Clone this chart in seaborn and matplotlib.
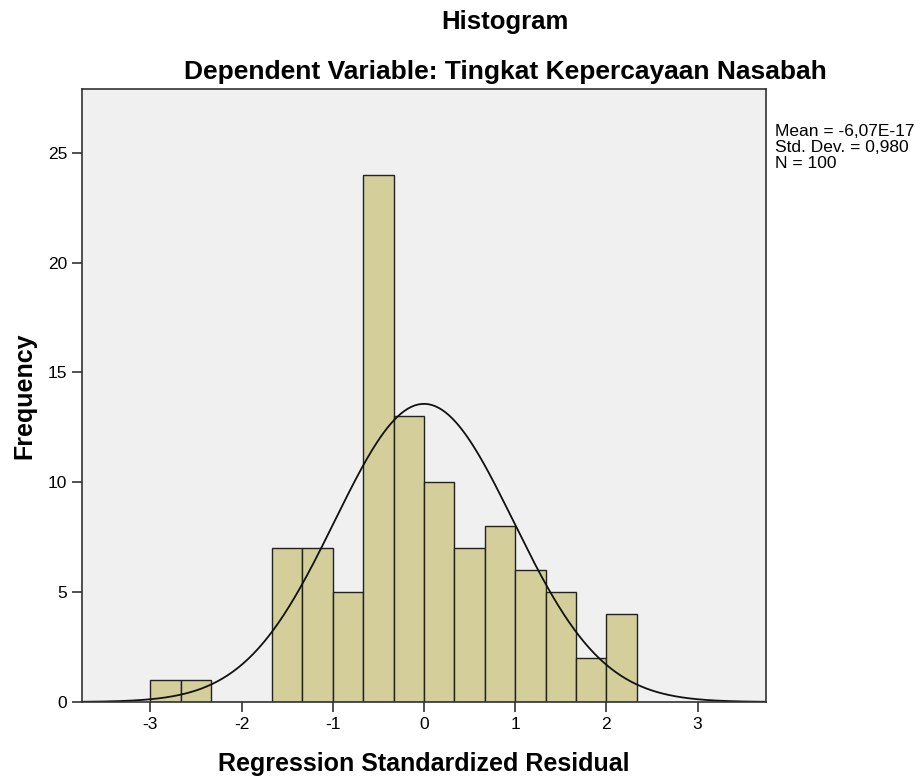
"""SPSS-style residual histogram with fitted normal curve."""
import matplotlib
matplotlib.use("Agg")
import matplotlib.pyplot as plt
import numpy as np
import pandas as pd
import seaborn as sns

# bins of width 1/3 starting at -3
bin_edges = [-3.0, -8 / 3, -7 / 3, -2.0, -5 / 3, -4 / 3, -1.0, -2 / 3, -1 / 3,
             0.0, 1 / 3, 2 / 3, 1.0, 4 / 3, 5 / 3, 2.0, 7 / 3]
counts = [1, 1, 0, 0, 7, 7, 5, 24, 13, 10, 7, 8, 6, 5, 2, 4]

mean_resid = -6.07e-17
std_resid = 0.980
n_obs = 100
x_ticks = [-3, -2, -1, 0, 1, 2, 3]
y_ticks = [0, 5, 10, 15, 20, 25]

sns.set_theme(style="white")
plt.rcParams["font.family"] = ["Liberation Sans", "DejaVu Sans"]
plt.rcParams["text.color"] = "#000000"
plt.rcParams["axes.labelcolor"] = "#000000"

fig = plt.figure(figsize=(9.22, 7.78), dpi=100)
ax = fig.add_axes([0.0889, 0.0977, 0.7419, 0.7879])
ax.set_facecolor("#f0f0f0")

edges = np.array(bin_edges)
df = pd.DataFrame({"center": (edges[:-1] + edges[1:]) / 2, "count": counts})
sns.histplot(data=df, x="center", weights="count", bins=bin_edges, ax=ax,
             color="#d3ce9a", edgecolor="#222222", linewidth=1.0, alpha=1.0)

# normal curve scaled to counts
width = edges[1] - edges[0]
xs = np.linspace(-3.75, 3.75, 400)
ys = n_obs * width * np.exp(-0.5 * ((xs - mean_resid) / std_resid) ** 2) / (std_resid * np.sqrt(2 * np.pi))
sns.lineplot(x=xs, y=ys, ax=ax, color="#111111", linewidth=1.3)

ax.set_xlim(-3.75, 3.75)
ax.set_ylim(0, 27.9)
ax.set_xticks(x_ticks)
ax.set_xticklabels([str(t) for t in x_ticks])
ax.set_yticks(y_ticks)
ax.set_yticklabels([str(t) for t in y_ticks])
ax.tick_params(axis="both", which="both", direction="out", length=7.5, width=1.2,
               pad=3, color="#333333", labelsize=12.5, labelcolor="#000000",
               bottom=True, left=True)
for sp in ax.spines.values():
    sp.set_color("#333333")
    sp.set_linewidth(1.2)

ax.set_xlabel("Regression Standardized Residual", fontsize=18, fontweight="bold", labelpad=15)
ax.set_ylabel("Frequency", fontsize=18, fontweight="bold", labelpad=8)

fig.text(0.548, 0.972, "Histogram", ha="center", va="center", fontsize=18.5, fontweight="bold")
fig.text(0.548, 0.908, "Dependent Variable: Tingkat Kepercayaan Nasabah",
         ha="center", va="center", fontsize=19, fontweight="bold")

fig.text(0.841, 0.840, "Mean = -6,07E-17\nStd. Dev. = 0,980\nN = 100",
         ha="left", va="top", fontsize=12.5, linespacing=1.08)

fig.savefig("out.png", dpi=100)
